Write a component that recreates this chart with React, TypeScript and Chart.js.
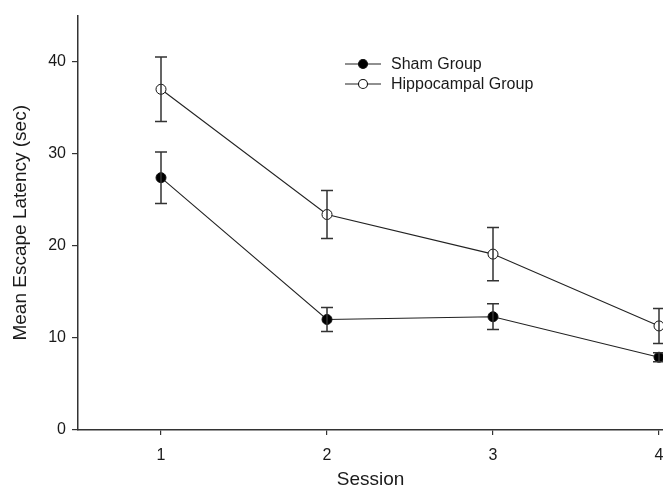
import React, { useEffect, useRef } from "react";
import { Chart, registerables } from "chart.js";
Chart.register(...registerables);

const sessions = [1, 2, 3, 4];
const shamMean = [27.4, 12.0, 12.3, 7.9];
const shamErr = [2.8, 1.3, 1.4, 0.5];
const hippoMean = [37.0, 23.4, 19.1, 11.3];
const hippoErr = [3.5, 2.6, 2.9, 1.9];
const yTicks = [0, 10, 20, 30, 40];
const seriesNames = ["Sham Group", "Hippocampal Group"];
const xTitle = "Session";

const FONT = "'Liberation Sans', Arial, sans-serif";
const INK = "#222";

const errorBars = {
  id: "errorBars",
  afterDatasetsDraw(chart: any) {
    const { ctx, scales } = chart;
    const errs = [shamErr, hippoErr];
    ctx.save();
    ctx.strokeStyle = "#333";
    ctx.lineWidth = 1.5;
    chart.data.datasets.forEach((ds: any, di: number) => {
      ds.data.forEach((p: any, i: number) => {
        const x = scales.x.getPixelForValue(p.x);
        const yT = scales.y.getPixelForValue(p.y + errs[di][i]);
        const yB = scales.y.getPixelForValue(p.y - errs[di][i]);
        ctx.beginPath();
        ctx.moveTo(x, yT); ctx.lineTo(x, yB);
        ctx.moveTo(x - 6, yT); ctx.lineTo(x + 6, yT);
        ctx.moveTo(x - 6, yB); ctx.lineTo(x + 6, yB);
        ctx.stroke();
      });
    });
    ctx.restore();
  },
  afterDraw(chart: any) {
    const { ctx } = chart;
    ctx.save();
    const rows = [
      { y: 64, fill: "#000" },
      { y: 84, fill: "#fff" },
    ];
    rows.forEach((r, i) => {
      ctx.strokeStyle = INK;
      ctx.lineWidth = 1.1;
      ctx.beginPath();
      ctx.moveTo(345, r.y); ctx.lineTo(381, r.y);
      ctx.stroke();
      ctx.beginPath();
      ctx.arc(363, r.y, 4.5, 0, Math.PI * 2);
      ctx.fillStyle = r.fill;
      ctx.fill();
      ctx.strokeStyle = "#111";
      ctx.stroke();
      ctx.fillStyle = "#1a1a1a";
      ctx.font = `16px ${FONT}`;
      ctx.textBaseline = "middle";
      ctx.fillText(seriesNames[i], 391, r.y + 1);
    });
    // x-axis title centred on the visible part of the axis
    ctx.fillStyle = "#1a1a1a";
    ctx.font = `19px ${FONT}`;
    ctx.textAlign = "center";
    ctx.textBaseline = "alphabetic";
    ctx.fillText(xTitle, (chart.chartArea.left + 663) / 2, 485);
    ctx.restore();
  },
};

export default function App() {
  const ref = useRef<HTMLCanvasElement>(null);
  useEffect(() => {
    const chart = new Chart(ref.current!, {
      type: "line",
      data: {
        datasets: [
          {
            label: seriesNames[0],
            data: sessions.map((s, i) => ({ x: s, y: shamMean[i] })),
            borderColor: INK,
            borderWidth: 1.1,
            backgroundColor: "#000",
            pointBackgroundColor: "#000",
            pointBorderColor: "#111",
            pointBorderWidth: 1,
            pointRadius: 5,
            clip: false as any,
          },
          {
            label: seriesNames[1],
            data: sessions.map((s, i) => ({ x: s, y: hippoMean[i] })),
            borderColor: INK,
            borderWidth: 1.1,
            backgroundColor: "#fff",
            pointBackgroundColor: "#fff",
            pointBorderColor: "#111",
            pointBorderWidth: 1,
            pointRadius: 5,
            clip: false as any,
          },
        ],
      },
      options: {
        animation: false,
        responsive: false,
        layout: { padding: { top: 14, right: 6, left: 0, bottom: 0 } },
        plugins: { legend: { display: false }, tooltip: { enabled: false } },
        scales: {
          x: {
            type: "linear",
            min: 0.5,
            max: 4.5,
            afterBuildTicks: (s: any) => { s.ticks = sessions.map((v) => ({ value: v })); },
            afterFit: (s: any) => { s.height = 57; },
            grid: { display: true, drawOnChartArea: false, drawTicks: true, tickLength: 5, color: "#333", lineWidth: 1.2 },
            border: { display: true, color: "#333", width: 1.5 },
            ticks: { color: "#1a1a1a", font: { family: FONT, size: 16 }, padding: 11, maxRotation: 0 },
            title: { display: false },
          },
          y: {
            min: 0,
            max: 45,
            afterBuildTicks: (s: any) => { s.ticks = yTicks.map((v) => ({ value: v })); },
            afterFit: (s: any) => { s.width = 78; },
            grid: { display: true, drawOnChartArea: false, drawTicks: true, tickLength: 6, color: "#333", lineWidth: 1.2 },
            border: { display: true, color: "#333", width: 1.5 },
            ticks: { color: "#1a1a1a", font: { family: FONT, size: 16 }, padding: 6 },
            title: { display: true, text: "Mean Escape Latency (sec)", color: "#1a1a1a", font: { family: FONT, size: 19, lineHeight: 1 }, padding: { top: 11, bottom: 0 } },
          },
        },
      },
      plugins: [errorBars],
    });
    return () => chart.destroy();
  }, []);
  return (
    <div style={{ position: "fixed", left: 0, top: 0, width: 663, height: 487, overflow: "hidden", background: "#fff" }}>
      <canvas ref={ref} width={748} height={487} style={{ width: 748, height: 487, display: "block" }} />
    </div>
  );
}
